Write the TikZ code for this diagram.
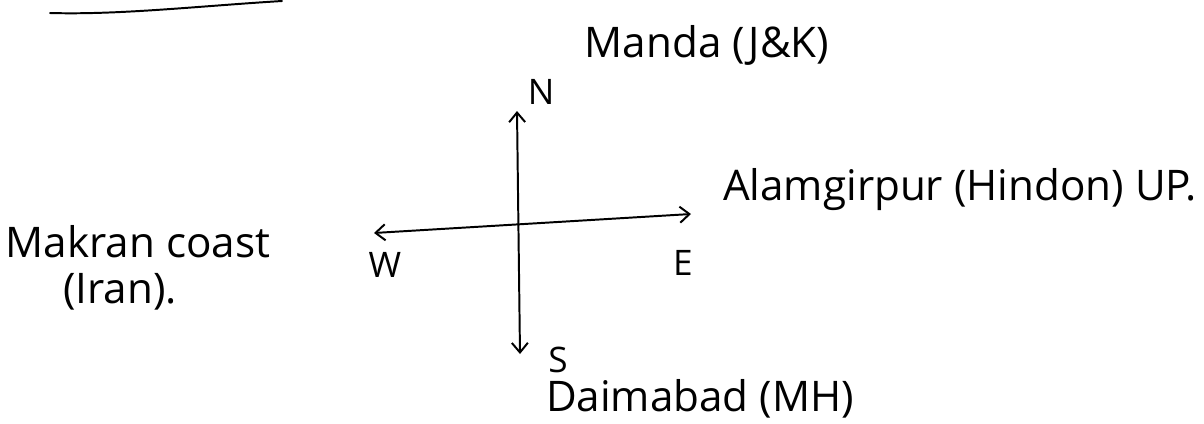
\documentclass[tikz,border=0pt]{standalone}
\usepackage{fontspec}
\setmainfont{Open Sans}
\usepackage{tikz}
\usetikzlibrary{arrows.meta}

\begin{document}
\begin{tikzpicture}[x=0.025cm, y=-0.025cm,
    place/.style={inner sep=0pt, font=\fontsize{30}{34}\selectfont},
    dirlabel/.style={inner sep=0pt, font=\fontsize{25}{30}\selectfont},
    axis/.style={line width=1.4pt, {Straight Barb[length=2.4mm, width=4mm]}-{Straight Barb[length=2.4mm, width=4mm]}}]
  \useasboundingbox (0,0) rectangle (1204,423);
  % stroke left over from the line above
  \coordinate (ruleL) at (50,13);
  \coordinate (ruleR) at (282,1);
  \draw[line width=1.4pt, line cap=round] (ruleL) .. controls (120,15) and (200,6) .. (ruleR);
  % ends of the compass cross
  \coordinate (north) at (517,111);
  \coordinate (south) at (520,354);
  \coordinate (west) at (374,233);
  \coordinate (east) at (691,214);
  \draw[axis] (south) -- (north);
  \draw[axis] (west) -- (east);
  % direction letters
  \node[dirlabel] (nlab) at (541,92) {N};
  \node[dirlabel] (elab) at (683,263) {E};
  \node[dirlabel] (wlab) at (385,265) {W};
  \node[dirlabel] (slab) at (558,360) {S};
  % sites
  \node[place] (manda) at (707,45) {Manda (J\&K)};
  \node[place] (alamgirpur) at (960,190) {Alamgirpur (Hindon) UP.};
  \node[place] (makran) at (138,242) {Makran coast};
  \node[place] (iran) at (120,292) {(Iran).};
  \node[place] (daimabad) at (700,399) {Daimabad (MH)};
\end{tikzpicture}
\end{document}
